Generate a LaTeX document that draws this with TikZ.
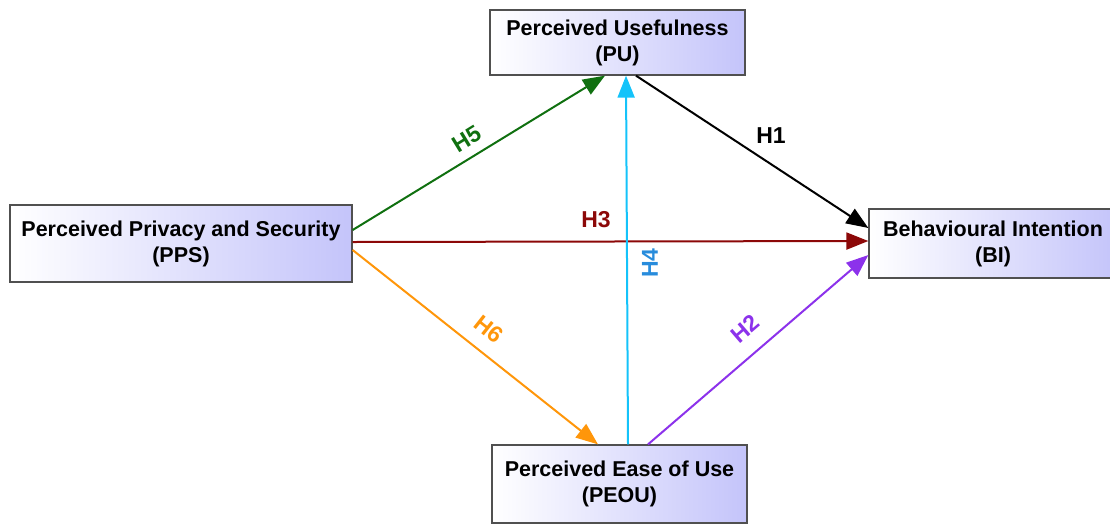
\documentclass[tikz,border=0pt]{standalone}
\usepackage{fontspec}
\setmainfont{Liberation Sans}
\usetikzlibrary{arrows.meta}
\definecolor{boxblue}{RGB}{196,196,250}
\definecolor{boxborder}{RGB}{80,80,80}
\definecolor{cGreen}{RGB}{16,112,16}
\definecolor{cRed}{RGB}{140,8,8}
\definecolor{cOrange}{RGB}{255,150,10}
\definecolor{cCyan}{RGB}{20,195,250}
\definecolor{cCyanTxt}{RGB}{40,140,220}
\definecolor{cPurple}{RGB}{140,50,235}
\tikzset{
  box/.style={draw=boxborder, line width=1.3pt, left color=white, right color=boxblue,
    align=center, inner sep=0pt, font=\fontsize{21.5}{26}\selectfont\bfseries},
  conn/.style={line width=2pt, -{Triangle[length=22pt,width=17pt]}},
  hlab/.style={font=\fontsize{23}{23}\selectfont\bfseries, inner sep=0pt}
}
\begin{document}
\begin{tikzpicture}[x=1pt,y=-1pt]
\useasboundingbox (0,0) rectangle (1110,523);
\node[box, minimum width=255pt, minimum height=65pt] (pu) at (617.5,42.5) {Perceived Usefulness\\(PU)};
\node[box, minimum width=342pt, minimum height=77pt] (pps) at (181,243.5) {Perceived Privacy and Security\\(PPS)};
\node[box, minimum width=248pt, minimum height=69pt] (bi) at (993,243.5) {Behavioural Intention\\(BI)};
\node[box, minimum width=255pt, minimum height=78pt] (peou) at (619.5,484) {Perceived Ease of Use\\(PEOU)};

\draw[conn, cGreen] ([yshift=13.5pt]pps.east) -- ([xshift=-12.5pt]pu.south);
\draw[conn, cRed] ([yshift=1.5pt]pps.east) -- ([yshift=2.5pt]bi.west);
\draw[conn, cOrange] ([yshift=-6.5pt]pps.east) -- ([xshift=-21.5pt]peou.north);
\draw[conn, cCyan] ([xshift=8.5pt]peou.north) -- ([xshift=8.5pt]pu.south);
\draw[conn, black] ([xshift=18.5pt]pu.south) -- ([yshift=15.5pt]bi.west);
\draw[conn, cPurple] ([xshift=28.5pt]peou.north) -- ([yshift=-11.5pt]bi.west);

\node[hlab, text=cGreen, rotate=31.5] (h5) at (467,139) {H5};
\node[hlab, text=cRed] (h3) at (596,220) {H3};
\node[hlab, text=cOrange, rotate=-38.4] (h6) at (489,329) {H6};
\node[hlab, text=cCyanTxt, rotate=90] (h4) at (650,263) {H4};
\node[hlab, text=black] (h1) at (771,136) {H1};
\node[hlab, text=cPurple, rotate=40.7] (h2) at (745,329) {H2};
\end{tikzpicture}
\end{document}
